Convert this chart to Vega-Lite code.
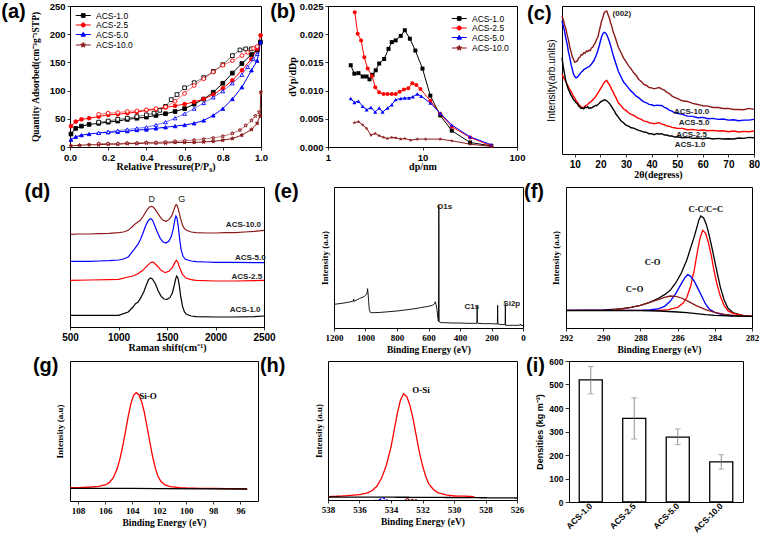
{
"$schema": "https://vega.github.io/schema/vega-lite/v6.json",
"padding": {"left": 0, "top": 0, "right": 0, "bottom": 0},
"background": "white",
"config": {
 "view": {"stroke": "black", "strokeWidth": 1},
 "axis": {"domain": false, "grid": false, "tickColor": "black", "tickSize": 3, "tickWidth": 0.8, "labelColor": "black", "titleColor": "black", "labelFont": "Liberation Sans", "labelFontWeight": "bold", "labelFontSize": 9.5, "titleFont": "Liberation Serif", "titleFontWeight": "bold", "titleFontSize": 10, "labelPadding": 2, "titlePadding": 0, "labelOverlap": false, "labelFlush": false},
 "title": {"font": "Liberation Sans", "fontSize": 20, "fontWeight": "bold", "color": "black", "orient": "left", "angle": 0, "anchor": "end", "frame": "group", "baseline": "top", "align": "right"},
 "text": {"font": "Liberation Serif", "fontWeight": "bold", "fontSize": 8.5, "color": "black"}
},
"spacing": 1,
"vconcat": [
{"spacing": 0, "hconcat": [
{
 "width": 191, "height": 141,
 "title": {"text": "(a)", "offset": -20, "dy": -4},
 "data": {"values": [
 {"s":"ACS-1.0","b":"ads","x":0.005,"y":23},{"s":"ACS-1.0","b":"ads","x":0.03,"y":33},{"s":"ACS-1.0","b":"ads","x":0.06,"y":37},{"s":"ACS-1.0","b":"ads","x":0.1,"y":40},{"s":"ACS-1.0","b":"ads","x":0.15,"y":42},{"s":"ACS-1.0","b":"ads","x":0.2,"y":44},{"s":"ACS-1.0","b":"ads","x":0.25,"y":46},{"s":"ACS-1.0","b":"ads","x":0.3,"y":49},{"s":"ACS-1.0","b":"ads","x":0.35,"y":51},{"s":"ACS-1.0","b":"ads","x":0.4,"y":53},{"s":"ACS-1.0","b":"ads","x":0.45,"y":56},{"s":"ACS-1.0","b":"ads","x":0.5,"y":59},{"s":"ACS-1.0","b":"ads","x":0.55,"y":63},{"s":"ACS-1.0","b":"ads","x":0.6,"y":68},{"s":"ACS-1.0","b":"ads","x":0.65,"y":76},{"s":"ACS-1.0","b":"ads","x":0.7,"y":85},{"s":"ACS-1.0","b":"ads","x":0.75,"y":97},{"s":"ACS-1.0","b":"ads","x":0.8,"y":113},{"s":"ACS-1.0","b":"ads","x":0.85,"y":131},{"s":"ACS-1.0","b":"ads","x":0.9,"y":148},{"s":"ACS-1.0","b":"ads","x":0.95,"y":164},{"s":"ACS-1.0","b":"ads","x":0.98,"y":172},{"s":"ACS-1.0","b":"ads","x":0.997,"y":186},
 {"s":"ACS-1.0","b":"des","x":0.98,"y":176},{"s":"ACS-1.0","b":"des","x":0.95,"y":174},{"s":"ACS-1.0","b":"des","x":0.92,"y":174},{"s":"ACS-1.0","b":"des","x":0.89,"y":172},{"s":"ACS-1.0","b":"des","x":0.85,"y":162},{"s":"ACS-1.0","b":"des","x":0.8,"y":146},{"s":"ACS-1.0","b":"des","x":0.75,"y":134},{"s":"ACS-1.0","b":"des","x":0.7,"y":123},{"s":"ACS-1.0","b":"des","x":0.65,"y":114},{"s":"ACS-1.0","b":"des","x":0.6,"y":105},{"s":"ACS-1.0","b":"des","x":0.56,"y":93},{"s":"ACS-1.0","b":"des","x":0.53,"y":84},{"s":"ACS-1.0","b":"des","x":0.5,"y":72},{"s":"ACS-1.0","b":"des","x":0.47,"y":65},{"s":"ACS-1.0","b":"des","x":0.44,"y":60},{"s":"ACS-1.0","b":"des","x":0.4,"y":57},{"s":"ACS-1.0","b":"des","x":0.35,"y":54},{"s":"ACS-1.0","b":"des","x":0.3,"y":51},{"s":"ACS-1.0","b":"des","x":0.25,"y":49},{"s":"ACS-1.0","b":"des","x":0.2,"y":46},{"s":"ACS-1.0","b":"des","x":0.15,"y":44},
 {"s":"ACS-2.5","b":"ads","x":0.005,"y":37},{"s":"ACS-2.5","b":"ads","x":0.03,"y":45},{"s":"ACS-2.5","b":"ads","x":0.06,"y":49},{"s":"ACS-2.5","b":"ads","x":0.1,"y":51},{"s":"ACS-2.5","b":"ads","x":0.15,"y":54},{"s":"ACS-2.5","b":"ads","x":0.2,"y":57},{"s":"ACS-2.5","b":"ads","x":0.25,"y":58},{"s":"ACS-2.5","b":"ads","x":0.3,"y":60},{"s":"ACS-2.5","b":"ads","x":0.35,"y":62},{"s":"ACS-2.5","b":"ads","x":0.4,"y":65},{"s":"ACS-2.5","b":"ads","x":0.45,"y":67},{"s":"ACS-2.5","b":"ads","x":0.5,"y":70},{"s":"ACS-2.5","b":"ads","x":0.55,"y":73},{"s":"ACS-2.5","b":"ads","x":0.6,"y":76},{"s":"ACS-2.5","b":"ads","x":0.65,"y":80},{"s":"ACS-2.5","b":"ads","x":0.7,"y":85},{"s":"ACS-2.5","b":"ads","x":0.75,"y":93},{"s":"ACS-2.5","b":"ads","x":0.8,"y":104},{"s":"ACS-2.5","b":"ads","x":0.85,"y":118},{"s":"ACS-2.5","b":"ads","x":0.9,"y":136},{"s":"ACS-2.5","b":"ads","x":0.95,"y":156},{"s":"ACS-2.5","b":"ads","x":0.98,"y":174},{"s":"ACS-2.5","b":"ads","x":0.998,"y":198},
 {"s":"ACS-2.5","b":"des","x":0.98,"y":178},{"s":"ACS-2.5","b":"des","x":0.96,"y":175},{"s":"ACS-2.5","b":"des","x":0.93,"y":168},{"s":"ACS-2.5","b":"des","x":0.9,"y":162},{"s":"ACS-2.5","b":"des","x":0.85,"y":153},{"s":"ACS-2.5","b":"des","x":0.8,"y":145},{"s":"ACS-2.5","b":"des","x":0.75,"y":133},{"s":"ACS-2.5","b":"des","x":0.7,"y":121},{"s":"ACS-2.5","b":"des","x":0.65,"y":109},{"s":"ACS-2.5","b":"des","x":0.6,"y":95},{"s":"ACS-2.5","b":"des","x":0.55,"y":81},{"s":"ACS-2.5","b":"des","x":0.5,"y":71},{"s":"ACS-2.5","b":"des","x":0.45,"y":68},{"s":"ACS-2.5","b":"des","x":0.4,"y":66},{"s":"ACS-2.5","b":"des","x":0.35,"y":64},{"s":"ACS-2.5","b":"des","x":0.3,"y":63},{"s":"ACS-2.5","b":"des","x":0.25,"y":61},{"s":"ACS-2.5","b":"des","x":0.2,"y":60},{"s":"ACS-2.5","b":"des","x":0.15,"y":58},
 {"s":"ACS-5.0","b":"ads","x":0.005,"y":13},{"s":"ACS-5.0","b":"ads","x":0.03,"y":18},{"s":"ACS-5.0","b":"ads","x":0.06,"y":21},{"s":"ACS-5.0","b":"ads","x":0.1,"y":23},{"s":"ACS-5.0","b":"ads","x":0.15,"y":25},{"s":"ACS-5.0","b":"ads","x":0.2,"y":26},{"s":"ACS-5.0","b":"ads","x":0.25,"y":27},{"s":"ACS-5.0","b":"ads","x":0.3,"y":28},{"s":"ACS-5.0","b":"ads","x":0.35,"y":30},{"s":"ACS-5.0","b":"ads","x":0.4,"y":31},{"s":"ACS-5.0","b":"ads","x":0.45,"y":33},{"s":"ACS-5.0","b":"ads","x":0.5,"y":35},{"s":"ACS-5.0","b":"ads","x":0.55,"y":37},{"s":"ACS-5.0","b":"ads","x":0.6,"y":39},{"s":"ACS-5.0","b":"ads","x":0.65,"y":42},{"s":"ACS-5.0","b":"ads","x":0.7,"y":47},{"s":"ACS-5.0","b":"ads","x":0.75,"y":56},{"s":"ACS-5.0","b":"ads","x":0.8,"y":68},{"s":"ACS-5.0","b":"ads","x":0.85,"y":85},{"s":"ACS-5.0","b":"ads","x":0.9,"y":106},{"s":"ACS-5.0","b":"ads","x":0.95,"y":136},{"s":"ACS-5.0","b":"ads","x":0.98,"y":153},{"s":"ACS-5.0","b":"ads","x":0.998,"y":186},
 {"s":"ACS-5.0","b":"des","x":0.98,"y":165},{"s":"ACS-5.0","b":"des","x":0.96,"y":156},{"s":"ACS-5.0","b":"des","x":0.93,"y":142},{"s":"ACS-5.0","b":"des","x":0.9,"y":128},{"s":"ACS-5.0","b":"des","x":0.85,"y":113},{"s":"ACS-5.0","b":"des","x":0.8,"y":99},{"s":"ACS-5.0","b":"des","x":0.75,"y":88},{"s":"ACS-5.0","b":"des","x":0.7,"y":78},{"s":"ACS-5.0","b":"des","x":0.65,"y":68},{"s":"ACS-5.0","b":"des","x":0.6,"y":59},{"s":"ACS-5.0","b":"des","x":0.55,"y":51},{"s":"ACS-5.0","b":"des","x":0.5,"y":44},{"s":"ACS-5.0","b":"des","x":0.45,"y":39},{"s":"ACS-5.0","b":"des","x":0.4,"y":35},{"s":"ACS-5.0","b":"des","x":0.35,"y":33},{"s":"ACS-5.0","b":"des","x":0.3,"y":31},{"s":"ACS-5.0","b":"des","x":0.25,"y":29},{"s":"ACS-5.0","b":"des","x":0.2,"y":27},{"s":"ACS-5.0","b":"des","x":0.15,"y":25},
 {"s":"ACS-10.0","b":"ads","x":0.005,"y":2},{"s":"ACS-10.0","b":"ads","x":0.05,"y":3},{"s":"ACS-10.0","b":"ads","x":0.1,"y":4},{"s":"ACS-10.0","b":"ads","x":0.15,"y":4},{"s":"ACS-10.0","b":"ads","x":0.2,"y":5},{"s":"ACS-10.0","b":"ads","x":0.25,"y":5},{"s":"ACS-10.0","b":"ads","x":0.3,"y":6},{"s":"ACS-10.0","b":"ads","x":0.35,"y":6},{"s":"ACS-10.0","b":"ads","x":0.4,"y":7},{"s":"ACS-10.0","b":"ads","x":0.45,"y":7},{"s":"ACS-10.0","b":"ads","x":0.5,"y":7},{"s":"ACS-10.0","b":"ads","x":0.55,"y":8},{"s":"ACS-10.0","b":"ads","x":0.6,"y":8},{"s":"ACS-10.0","b":"ads","x":0.65,"y":8},{"s":"ACS-10.0","b":"ads","x":0.7,"y":9},{"s":"ACS-10.0","b":"ads","x":0.75,"y":10},{"s":"ACS-10.0","b":"ads","x":0.8,"y":12},{"s":"ACS-10.0","b":"ads","x":0.85,"y":15},{"s":"ACS-10.0","b":"ads","x":0.9,"y":21},{"s":"ACS-10.0","b":"ads","x":0.95,"y":31},{"s":"ACS-10.0","b":"ads","x":0.98,"y":42},{"s":"ACS-10.0","b":"ads","x":0.995,"y":55},{"s":"ACS-10.0","b":"ads","x":0.999,"y":97},
 {"s":"ACS-10.0","b":"des","x":0.99,"y":62},{"s":"ACS-10.0","b":"des","x":0.97,"y":55},{"s":"ACS-10.0","b":"des","x":0.95,"y":47},{"s":"ACS-10.0","b":"des","x":0.92,"y":38},{"s":"ACS-10.0","b":"des","x":0.89,"y":30},{"s":"ACS-10.0","b":"des","x":0.85,"y":24},{"s":"ACS-10.0","b":"des","x":0.8,"y":19},{"s":"ACS-10.0","b":"des","x":0.75,"y":16},{"s":"ACS-10.0","b":"des","x":0.7,"y":14},{"s":"ACS-10.0","b":"des","x":0.65,"y":12},{"s":"ACS-10.0","b":"des","x":0.6,"y":11},{"s":"ACS-10.0","b":"des","x":0.55,"y":10},{"s":"ACS-10.0","b":"des","x":0.5,"y":9},{"s":"ACS-10.0","b":"des","x":0.45,"y":8},{"s":"ACS-10.0","b":"des","x":0.4,"y":8},{"s":"ACS-10.0","b":"des","x":0.35,"y":7},{"s":"ACS-10.0","b":"des","x":0.3,"y":7},{"s":"ACS-10.0","b":"des","x":0.25,"y":6},{"s":"ACS-10.0","b":"des","x":0.2,"y":6},{"s":"ACS-10.0","b":"des","x":0.15,"y":6}
 ]},
 "encoding": {
  "x": {"field": "x", "type": "quantitative", "scale": {"domain": [0, 1], "nice": false}, "axis": {"values": [0, 0.2, 0.4, 0.6, 0.8, 1], "format": ".1f", "title": "Relative Pressure(P/P₀)"}},
  "y": {"field": "y", "type": "quantitative", "scale": {"domain": [0, 250], "nice": false}, "axis": {"values": [0, 50, 100, 150, 200, 250], "title": "Quantity Adsorbed(cm⁻³g⁻¹STP)", "titlePadding": 9, "titleFontSize": 9.5}}
 },
 "resolve": {"scale": {"shape": "independent", "fill": "independent", "stroke": "independent"}},
 "layer": [
  {"mark": {"type": "line", "strokeWidth": 1},
   "encoding": {
    "detail": {"field": "b"},
    "color": {"field": "s", "type": "nominal", "scale": {"domain": ["ACS-1.0", "ACS-2.5", "ACS-5.0", "ACS-10.0"], "range": ["#000000", "#ff0000", "#0000ff", "#8b1a1a"]}, "legend": null},
    "strokeOpacity": {"condition": {"test": "datum.b == 'des'", "value": 0.55}, "value": 1}
   }},
  {"mark": {"type": "point", "size": 14, "strokeWidth": 0.9, "opacity": 1, "filled": true},
   "encoding": {
    "shape": {"field": "s", "type": "nominal", "scale": {"domain": ["ACS-1.0", "ACS-2.5", "ACS-5.0", "ACS-10.0"], "range": ["square", "circle", "triangle-up", "M0,-1L0.235,-0.324L0.951,-0.309L0.38,0.124L0.588,0.809L0,0.4L-0.588,0.809L-0.38,0.124L-0.951,-0.309L-0.235,-0.324Z"]}, "legend": null},
    "stroke": {"field": "s", "type": "nominal", "scale": {"domain": ["ACS-1.0", "ACS-2.5", "ACS-5.0", "ACS-10.0"], "range": ["#000000", "#ff0000", "#0000ff", "#8b1a1a"]}, "legend": null},
    "fill": {"field": "s", "type": "nominal", "scale": {"domain": ["ACS-1.0", "ACS-2.5", "ACS-5.0", "ACS-10.0"], "range": ["#000000", "#ff0000", "#0000ff", "#8b1a1a"]}, "legend": null, "condition": {"test": "datum.b == 'des'", "value": "white"}}
   }},
  {"transform": [{"filter": "false"}],
   "mark": {"type": "point", "filled": true, "opacity": 1, "strokeWidth": 1},
   "encoding": {
    "shape": {"field": "s", "type": "nominal", "scale": {"domain": ["ACS-1.0", "ACS-2.5", "ACS-5.0", "ACS-10.0"], "range": ["M-1,0H3M0.5,-0.5H1.5V0.5H0.5Z", "M-1,0H3M1.55,0A0.55,0.55,0,1,1,0.45,0A0.55,0.55,0,1,1,1.55,0Z", "M-1,0H3M1,-0.6L1.6,0.45H0.4Z", "M-1,0H3M1,-0.7L1.17,-0.23L1.68,-0.22L1.27,0.09L1.42,0.57L1,0.29L0.58,0.57L0.73,0.09L0.32,-0.22L0.83,-0.23Z"]},
     "legend": {"orient": "top-left", "offset": 5, "title": null, "padding": 0, "rowPadding": 0.5, "labelFont": "Liberation Sans", "labelFontSize": 8.5, "labelFontWeight": "normal", "labelColor": "black", "labelOffset": 12, "symbolSize": 56, "symbolStrokeWidth": 1}},
    "fill": {"field": "s", "type": "nominal", "scale": {"domain": ["ACS-1.0", "ACS-2.5", "ACS-5.0", "ACS-10.0"], "range": ["#000000", "#ff0000", "#0000ff", "#8b1a1a"]},
     "legend": {"orient": "top-left", "offset": 5, "title": null, "padding": 0, "rowPadding": 0.5, "labelFont": "Liberation Sans", "labelFontSize": 8.5, "labelFontWeight": "normal", "labelColor": "black", "labelOffset": 12, "symbolSize": 56, "symbolStrokeWidth": 1}},
    "stroke": {"field": "s", "type": "nominal", "scale": {"domain": ["ACS-1.0", "ACS-2.5", "ACS-5.0", "ACS-10.0"], "range": ["#000000", "#ff0000", "#0000ff", "#8b1a1a"]},
     "legend": {"orient": "top-left", "offset": 5, "title": null, "padding": 0, "rowPadding": 0.5, "labelFont": "Liberation Sans", "labelFontSize": 8.5, "labelFontWeight": "normal", "labelColor": "black", "labelOffset": 12, "symbolSize": 56, "symbolStrokeWidth": 1}}
   }}
 ]
},
{
 "width": 189, "height": 141,
 "title": {"text": "(b)", "offset": -34, "dy": -4},
 "data": {"values": [
 {"s":"ACS-1.0","x":1.74,"y":0.0145},{"s":"ACS-1.0","x":1.9,"y":0.013},{"s":"ACS-1.0","x":2.1,"y":0.0131},{"s":"ACS-1.0","x":2.33,"y":0.0125},{"s":"ACS-1.0","x":2.56,"y":0.0125},{"s":"ACS-1.0","x":2.75,"y":0.012},{"s":"ACS-1.0","x":2.96,"y":0.0128},{"s":"ACS-1.0","x":3.2,"y":0.0136},{"s":"ACS-1.0","x":3.48,"y":0.0148},{"s":"ACS-1.0","x":3.93,"y":0.0156},{"s":"ACS-1.0","x":4.37,"y":0.0174},{"s":"ACS-1.0","x":4.73,"y":0.0186},{"s":"ACS-1.0","x":5.2,"y":0.0189},{"s":"ACS-1.0","x":5.88,"y":0.0197},{"s":"ACS-1.0","x":6.5,"y":0.0207},{"s":"ACS-1.0","x":7.35,"y":0.0192},{"s":"ACS-1.0","x":8.4,"y":0.0171},{"s":"ACS-1.0","x":10,"y":0.0139},{"s":"ACS-1.0","x":12.1,"y":0.0091},{"s":"ACS-1.0","x":15.4,"y":0.0056},{"s":"ACS-1.0","x":20.4,"y":0.0029},{"s":"ACS-1.0","x":31.9,"y":0.0008},{"s":"ACS-1.0","x":53.5,"y":0.0002},
 {"s":"ACS-2.5","x":1.92,"y":0.0239},{"s":"ACS-2.5","x":2.06,"y":0.0201},{"s":"ACS-2.5","x":2.24,"y":0.0189},{"s":"ACS-2.5","x":2.42,"y":0.0159},{"s":"ACS-2.5","x":2.63,"y":0.0139},{"s":"ACS-2.5","x":2.92,"y":0.0126},{"s":"ACS-2.5","x":3.16,"y":0.0106},{"s":"ACS-2.5","x":3.48,"y":0.0097},{"s":"ACS-2.5","x":3.87,"y":0.0094},{"s":"ACS-2.5","x":4.26,"y":0.0094},{"s":"ACS-2.5","x":4.73,"y":0.0094},{"s":"ACS-2.5","x":5.2,"y":0.0094},{"s":"ACS-2.5","x":5.74,"y":0.0098},{"s":"ACS-2.5","x":6.36,"y":0.0102},{"s":"ACS-2.5","x":7.06,"y":0.0104},{"s":"ACS-2.5","x":7.8,"y":0.0113},{"s":"ACS-2.5","x":8.6,"y":0.011},{"s":"ACS-2.5","x":9.5,"y":0.0103},{"s":"ACS-2.5","x":12.1,"y":0.0082},{"s":"ACS-2.5","x":15.4,"y":0.0059},{"s":"ACS-2.5","x":20.4,"y":0.0036},{"s":"ACS-2.5","x":31.9,"y":0.0017},{"s":"ACS-2.5","x":53.5,"y":0.0002},
 {"s":"ACS-5.0","x":1.74,"y":0.0086},{"s":"ACS-5.0","x":1.9,"y":0.0079},{"s":"ACS-5.0","x":2.1,"y":0.0081},{"s":"ACS-5.0","x":2.33,"y":0.0072},{"s":"ACS-5.0","x":2.56,"y":0.0066},{"s":"ACS-5.0","x":2.85,"y":0.007},{"s":"ACS-5.0","x":3.16,"y":0.0062},{"s":"ACS-5.0","x":3.48,"y":0.0069},{"s":"ACS-5.0","x":3.78,"y":0.0062},{"s":"ACS-5.0","x":4.26,"y":0.0069},{"s":"ACS-5.0","x":4.73,"y":0.0075},{"s":"ACS-5.0","x":5.2,"y":0.0084},{"s":"ACS-5.0","x":5.88,"y":0.0086},{"s":"ACS-5.0","x":6.5,"y":0.0087},{"s":"ACS-5.0","x":7.2,"y":0.0087},{"s":"ACS-5.0","x":7.9,"y":0.0089},{"s":"ACS-5.0","x":8.8,"y":0.0094},{"s":"ACS-5.0","x":9.7,"y":0.009},{"s":"ACS-5.0","x":12.1,"y":0.0078},{"s":"ACS-5.0","x":15.4,"y":0.006},{"s":"ACS-5.0","x":20.4,"y":0.0039},{"s":"ACS-5.0","x":31.9,"y":0.0018},{"s":"ACS-5.0","x":53.5,"y":0.0004},
 {"s":"ACS-10.0","x":1.9,"y":0.0043},{"s":"ACS-10.0","x":2.1,"y":0.0045},{"s":"ACS-10.0","x":2.33,"y":0.0039},{"s":"ACS-10.0","x":2.56,"y":0.0033},{"s":"ACS-10.0","x":2.85,"y":0.0021},{"s":"ACS-10.0","x":3.16,"y":0.0024},{"s":"ACS-10.0","x":3.48,"y":0.002},{"s":"ACS-10.0","x":3.87,"y":0.0017},{"s":"ACS-10.0","x":4.26,"y":0.0015},{"s":"ACS-10.0","x":4.73,"y":0.0017},{"s":"ACS-10.0","x":5.2,"y":0.0016},{"s":"ACS-10.0","x":5.88,"y":0.0014},{"s":"ACS-10.0","x":6.5,"y":0.0015},{"s":"ACS-10.0","x":7.5,"y":0.0012},{"s":"ACS-10.0","x":8.8,"y":0.0014},{"s":"ACS-10.0","x":10.8,"y":0.0014},{"s":"ACS-10.0","x":15.4,"y":0.0014},{"s":"ACS-10.0","x":20.4,"y":0.0011},{"s":"ACS-10.0","x":31.9,"y":0.0005},{"s":"ACS-10.0","x":53.5,"y":0.0001}
 ]},
 "encoding": {
  "x": {"field": "x", "type": "quantitative", "scale": {"type": "log", "domain": [1, 100], "nice": false}, "axis": {"values": [1, 10, 100], "format": "d", "title": "dp/nm"}},
  "y": {"field": "y", "type": "quantitative", "scale": {"domain": [0, 0.025], "nice": false}, "axis": {"values": [0, 0.005, 0.01, 0.015, 0.02, 0.025], "format": ".3f", "title": "dVp/dDp", "titlePadding": 2}}
 },
 "resolve": {"scale": {"shape": "independent", "fill": "independent", "stroke": "independent"}},
 "layer": [
  {"mark": {"type": "line", "strokeWidth": 1},
   "encoding": {"color": {"field": "s", "type": "nominal", "scale": {"domain": ["ACS-1.0", "ACS-2.5", "ACS-5.0", "ACS-10.0"], "range": ["#000000", "#ff0000", "#0000ff", "#8b1a1a"]}, "legend": null}}},
  {"mark": {"type": "point", "size": 16, "opacity": 1, "filled": true},
   "encoding": {
    "shape": {"field": "s", "type": "nominal", "scale": {"domain": ["ACS-1.0", "ACS-2.5", "ACS-5.0", "ACS-10.0"], "range": ["square", "circle", "triangle-up", "M0,-1L0.235,-0.324L0.951,-0.309L0.38,0.124L0.588,0.809L0,0.4L-0.588,0.809L-0.38,0.124L-0.951,-0.309L-0.235,-0.324Z"]}, "legend": null},
    "color": {"field": "s", "type": "nominal", "scale": {"domain": ["ACS-1.0", "ACS-2.5", "ACS-5.0", "ACS-10.0"], "range": ["#000000", "#ff0000", "#0000ff", "#8b1a1a"]}, "legend": null}
   }},
  {"transform": [{"filter": "false"}],
   "mark": {"type": "point", "filled": true, "opacity": 1, "strokeWidth": 1},
   "encoding": {
    "shape": {"field": "s", "type": "nominal", "scale": {"domain": ["ACS-1.0", "ACS-2.5", "ACS-5.0", "ACS-10.0"], "range": ["M-1,0H3M0.5,-0.5H1.5V0.5H0.5Z", "M-1,0H3M1.55,0A0.55,0.55,0,1,1,0.45,0A0.55,0.55,0,1,1,1.55,0Z", "M-1,0H3M1,-0.6L1.6,0.45H0.4Z", "M-1,0H3M1,-0.7L1.17,-0.23L1.68,-0.22L1.27,0.09L1.42,0.57L1,0.29L0.58,0.57L0.73,0.09L0.32,-0.22L0.83,-0.23Z"]},
     "legend": {"orient": "top-right", "offset": 8, "title": null, "padding": 0, "rowPadding": 0.5, "labelFont": "Liberation Sans", "labelFontSize": 8.5, "labelFontWeight": "normal", "labelColor": "black", "labelOffset": 12, "symbolSize": 56, "symbolStrokeWidth": 1}},
    "fill": {"field": "s", "type": "nominal", "scale": {"domain": ["ACS-1.0", "ACS-2.5", "ACS-5.0", "ACS-10.0"], "range": ["#000000", "#ff0000", "#0000ff", "#8b1a1a"]},
     "legend": {"orient": "top-right", "offset": 8, "title": null, "padding": 0, "rowPadding": 0.5, "labelFont": "Liberation Sans", "labelFontSize": 8.5, "labelFontWeight": "normal", "labelColor": "black", "labelOffset": 12, "symbolSize": 56, "symbolStrokeWidth": 1}},
    "stroke": {"field": "s", "type": "nominal", "scale": {"domain": ["ACS-1.0", "ACS-2.5", "ACS-5.0", "ACS-10.0"], "range": ["#000000", "#ff0000", "#0000ff", "#8b1a1a"]},
     "legend": {"orient": "top-right", "offset": 8, "title": null, "padding": 0, "rowPadding": 0.5, "labelFont": "Liberation Sans", "labelFontSize": 8.5, "labelFontWeight": "normal", "labelColor": "black", "labelOffset": 12, "symbolSize": 56, "symbolStrokeWidth": 1}}
   }}
 ]
},
{
 "width": 192, "height": 148,
 "title": {"text": "(c)", "offset": -30, "dy": -2},
 "data": {"values": [
 {"s":"ACS-10.0","x":5,"y":415},{"s":"ACS-10.0","x":5.5,"y":404},{"s":"ACS-10.0","x":6,"y":388},{"s":"ACS-10.0","x":6.5,"y":377},{"s":"ACS-10.0","x":7,"y":358},{"s":"ACS-10.0","x":7.5,"y":344},{"s":"ACS-10.0","x":8,"y":323},{"s":"ACS-10.0","x":8.5,"y":309},{"s":"ACS-10.0","x":9,"y":293},{"s":"ACS-10.0","x":9.5,"y":285},{"s":"ACS-10.0","x":10,"y":276},{"s":"ACS-10.0","x":10.5,"y":278},{"s":"ACS-10.0","x":11,"y":280},{"s":"ACS-10.0","x":11.5,"y":289},{"s":"ACS-10.0","x":12,"y":291},{"s":"ACS-10.0","x":12.5,"y":299},{"s":"ACS-10.0","x":13,"y":298},{"s":"ACS-10.0","x":13.5,"y":305},{"s":"ACS-10.0","x":14,"y":303},{"s":"ACS-10.0","x":14.5,"y":310},{"s":"ACS-10.0","x":15,"y":308},{"s":"ACS-10.0","x":15.5,"y":312},{"s":"ACS-10.0","x":16,"y":311},{"s":"ACS-10.0","x":16.5,"y":319},{"s":"ACS-10.0","x":17,"y":321},{"s":"ACS-10.0","x":17.5,"y":329},{"s":"ACS-10.0","x":18,"y":334},{"s":"ACS-10.0","x":18.5,"y":345},{"s":"ACS-10.0","x":19,"y":351},{"s":"ACS-10.0","x":19.5,"y":368},{"s":"ACS-10.0","x":20,"y":384},{"s":"ACS-10.0","x":20.5,"y":401},{"s":"ACS-10.0","x":21,"y":411},{"s":"ACS-10.0","x":21.5,"y":425},{"s":"ACS-10.0","x":22,"y":429},{"s":"ACS-10.0","x":22.5,"y":430},{"s":"ACS-10.0","x":23,"y":419},{"s":"ACS-10.0","x":23.5,"y":409},{"s":"ACS-10.0","x":24,"y":394},{"s":"ACS-10.0","x":24.5,"y":383},{"s":"ACS-10.0","x":25,"y":367},{"s":"ACS-10.0","x":25.5,"y":357},{"s":"ACS-10.0","x":26,"y":346},{"s":"ACS-10.0","x":27,"y":321},{"s":"ACS-10.0","x":28,"y":306},{"s":"ACS-10.0","x":29,"y":289},{"s":"ACS-10.0","x":30,"y":278},{"s":"ACS-10.0","x":31,"y":265},{"s":"ACS-10.0","x":32,"y":256},{"s":"ACS-10.0","x":33,"y":244},{"s":"ACS-10.0","x":34,"y":236},{"s":"ACS-10.0","x":35,"y":224},{"s":"ACS-10.0","x":36,"y":218},{"s":"ACS-10.0","x":37,"y":209},{"s":"ACS-10.0","x":38,"y":206},{"s":"ACS-10.0","x":39,"y":200},{"s":"ACS-10.0","x":40,"y":199},{"s":"ACS-10.0","x":41,"y":196},{"s":"ACS-10.0","x":42,"y":198},{"s":"ACS-10.0","x":43,"y":200},{"s":"ACS-10.0","x":44,"y":195},{"s":"ACS-10.0","x":45,"y":192},{"s":"ACS-10.0","x":46,"y":185},{"s":"ACS-10.0","x":47,"y":181},{"s":"ACS-10.0","x":48,"y":174},{"s":"ACS-10.0","x":49,"y":170},{"s":"ACS-10.0","x":50,"y":167},{"s":"ACS-10.0","x":52,"y":160},{"s":"ACS-10.0","x":54,"y":158},{"s":"ACS-10.0","x":56,"y":152},{"s":"ACS-10.0","x":58,"y":149},{"s":"ACS-10.0","x":60,"y":145},{"s":"ACS-10.0","x":62,"y":144},{"s":"ACS-10.0","x":64,"y":140},{"s":"ACS-10.0","x":66,"y":140},{"s":"ACS-10.0","x":68,"y":137},{"s":"ACS-10.0","x":70,"y":137},{"s":"ACS-10.0","x":72,"y":134},{"s":"ACS-10.0","x":74,"y":134},{"s":"ACS-10.0","x":76,"y":133},{"s":"ACS-10.0","x":78,"y":137},{"s":"ACS-10.0","x":80,"y":134},
 {"s":"ACS-5.0","x":5,"y":400},{"s":"ACS-5.0","x":5.5,"y":385},{"s":"ACS-5.0","x":6,"y":369},{"s":"ACS-5.0","x":6.5,"y":348},{"s":"ACS-5.0","x":7,"y":331},{"s":"ACS-5.0","x":7.5,"y":308},{"s":"ACS-5.0","x":8,"y":291},{"s":"ACS-5.0","x":8.5,"y":270},{"s":"ACS-5.0","x":9,"y":256},{"s":"ACS-5.0","x":9.5,"y":240},{"s":"ACS-5.0","x":10,"y":233},{"s":"ACS-5.0","x":10.5,"y":229},{"s":"ACS-5.0","x":11,"y":231},{"s":"ACS-5.0","x":11.5,"y":236},{"s":"ACS-5.0","x":12,"y":241},{"s":"ACS-5.0","x":12.5,"y":246},{"s":"ACS-5.0","x":13,"y":249},{"s":"ACS-5.0","x":13.5,"y":254},{"s":"ACS-5.0","x":14,"y":256},{"s":"ACS-5.0","x":14.5,"y":258},{"s":"ACS-5.0","x":15,"y":261},{"s":"ACS-5.0","x":15.5,"y":262},{"s":"ACS-5.0","x":16,"y":266},{"s":"ACS-5.0","x":16.5,"y":270},{"s":"ACS-5.0","x":17,"y":276},{"s":"ACS-5.0","x":17.5,"y":281},{"s":"ACS-5.0","x":18,"y":290},{"s":"ACS-5.0","x":18.5,"y":299},{"s":"ACS-5.0","x":19,"y":311},{"s":"ACS-5.0","x":19.5,"y":324},{"s":"ACS-5.0","x":20,"y":339},{"s":"ACS-5.0","x":20.5,"y":353},{"s":"ACS-5.0","x":21,"y":362},{"s":"ACS-5.0","x":21.5,"y":366},{"s":"ACS-5.0","x":22,"y":364},{"s":"ACS-5.0","x":22.5,"y":358},{"s":"ACS-5.0","x":23,"y":349},{"s":"ACS-5.0","x":23.5,"y":338},{"s":"ACS-5.0","x":24,"y":326},{"s":"ACS-5.0","x":24.5,"y":311},{"s":"ACS-5.0","x":25,"y":297},{"s":"ACS-5.0","x":25.5,"y":285},{"s":"ACS-5.0","x":26,"y":273},{"s":"ACS-5.0","x":27,"y":249},{"s":"ACS-5.0","x":28,"y":233},{"s":"ACS-5.0","x":29,"y":217},{"s":"ACS-5.0","x":30,"y":208},{"s":"ACS-5.0","x":31,"y":198},{"s":"ACS-5.0","x":32,"y":189},{"s":"ACS-5.0","x":33,"y":182},{"s":"ACS-5.0","x":34,"y":174},{"s":"ACS-5.0","x":35,"y":169},{"s":"ACS-5.0","x":36,"y":162},{"s":"ACS-5.0","x":37,"y":157},{"s":"ACS-5.0","x":38,"y":154},{"s":"ACS-5.0","x":39,"y":149},{"s":"ACS-5.0","x":40,"y":148},{"s":"ACS-5.0","x":41,"y":145},{"s":"ACS-5.0","x":42,"y":147},{"s":"ACS-5.0","x":43,"y":146},{"s":"ACS-5.0","x":44,"y":146},{"s":"ACS-5.0","x":45,"y":140},{"s":"ACS-5.0","x":46,"y":137},{"s":"ACS-5.0","x":47,"y":131},{"s":"ACS-5.0","x":48,"y":129},{"s":"ACS-5.0","x":49,"y":124},{"s":"ACS-5.0","x":50,"y":122},{"s":"ACS-5.0","x":52,"y":119},{"s":"ACS-5.0","x":54,"y":114},{"s":"ACS-5.0","x":56,"y":113},{"s":"ACS-5.0","x":58,"y":109},{"s":"ACS-5.0","x":60,"y":110},{"s":"ACS-5.0","x":62,"y":106},{"s":"ACS-5.0","x":64,"y":107},{"s":"ACS-5.0","x":66,"y":104},{"s":"ACS-5.0","x":68,"y":105},{"s":"ACS-5.0","x":70,"y":102},{"s":"ACS-5.0","x":72,"y":103},{"s":"ACS-5.0","x":74,"y":100},{"s":"ACS-5.0","x":76,"y":102},{"s":"ACS-5.0","x":78,"y":102},{"s":"ACS-5.0","x":80,"y":104},
 {"s":"ACS-2.5","x":5,"y":240},{"s":"ACS-2.5","x":5.5,"y":232},{"s":"ACS-2.5","x":6,"y":224},{"s":"ACS-2.5","x":6.5,"y":218},{"s":"ACS-2.5","x":7,"y":209},{"s":"ACS-2.5","x":7.5,"y":203},{"s":"ACS-2.5","x":8,"y":194},{"s":"ACS-2.5","x":8.5,"y":188},{"s":"ACS-2.5","x":9,"y":181},{"s":"ACS-2.5","x":9.5,"y":173},{"s":"ACS-2.5","x":10,"y":168},{"s":"ACS-2.5","x":10.5,"y":160},{"s":"ACS-2.5","x":11,"y":156},{"s":"ACS-2.5","x":11.5,"y":149},{"s":"ACS-2.5","x":12,"y":146},{"s":"ACS-2.5","x":12.5,"y":141},{"s":"ACS-2.5","x":13,"y":141},{"s":"ACS-2.5","x":13.5,"y":139},{"s":"ACS-2.5","x":14,"y":144},{"s":"ACS-2.5","x":14.5,"y":146},{"s":"ACS-2.5","x":15,"y":149},{"s":"ACS-2.5","x":15.5,"y":153},{"s":"ACS-2.5","x":16,"y":156},{"s":"ACS-2.5","x":16.5,"y":158},{"s":"ACS-2.5","x":17,"y":163},{"s":"ACS-2.5","x":17.5,"y":167},{"s":"ACS-2.5","x":18,"y":171},{"s":"ACS-2.5","x":18.5,"y":177},{"s":"ACS-2.5","x":19,"y":183},{"s":"ACS-2.5","x":19.5,"y":189},{"s":"ACS-2.5","x":20,"y":196},{"s":"ACS-2.5","x":20.5,"y":202},{"s":"ACS-2.5","x":21,"y":209},{"s":"ACS-2.5","x":21.5,"y":215},{"s":"ACS-2.5","x":22,"y":219},{"s":"ACS-2.5","x":22.5,"y":221},{"s":"ACS-2.5","x":23,"y":214},{"s":"ACS-2.5","x":23.5,"y":209},{"s":"ACS-2.5","x":24,"y":201},{"s":"ACS-2.5","x":24.5,"y":193},{"s":"ACS-2.5","x":25,"y":186},{"s":"ACS-2.5","x":25.5,"y":177},{"s":"ACS-2.5","x":26,"y":171},{"s":"ACS-2.5","x":27,"y":154},{"s":"ACS-2.5","x":28,"y":146},{"s":"ACS-2.5","x":29,"y":136},{"s":"ACS-2.5","x":30,"y":131},{"s":"ACS-2.5","x":31,"y":124},{"s":"ACS-2.5","x":32,"y":119},{"s":"ACS-2.5","x":33,"y":116},{"s":"ACS-2.5","x":34,"y":111},{"s":"ACS-2.5","x":35,"y":107},{"s":"ACS-2.5","x":36,"y":104},{"s":"ACS-2.5","x":37,"y":99},{"s":"ACS-2.5","x":38,"y":98},{"s":"ACS-2.5","x":39,"y":94},{"s":"ACS-2.5","x":40,"y":93},{"s":"ACS-2.5","x":41,"y":91},{"s":"ACS-2.5","x":42,"y":93},{"s":"ACS-2.5","x":43,"y":94},{"s":"ACS-2.5","x":44,"y":90},{"s":"ACS-2.5","x":45,"y":88},{"s":"ACS-2.5","x":46,"y":84},{"s":"ACS-2.5","x":47,"y":83},{"s":"ACS-2.5","x":48,"y":80},{"s":"ACS-2.5","x":49,"y":79},{"s":"ACS-2.5","x":50,"y":77},{"s":"ACS-2.5","x":52,"y":77},{"s":"ACS-2.5","x":54,"y":73},{"s":"ACS-2.5","x":56,"y":74},{"s":"ACS-2.5","x":58,"y":71},{"s":"ACS-2.5","x":60,"y":72},{"s":"ACS-2.5","x":62,"y":70},{"s":"ACS-2.5","x":64,"y":71},{"s":"ACS-2.5","x":66,"y":69},{"s":"ACS-2.5","x":68,"y":70},{"s":"ACS-2.5","x":70,"y":67},{"s":"ACS-2.5","x":72,"y":69},{"s":"ACS-2.5","x":74,"y":66},{"s":"ACS-2.5","x":76,"y":68},{"s":"ACS-2.5","x":78,"y":67},{"s":"ACS-2.5","x":80,"y":69},
 {"s":"ACS-1.0","x":5,"y":290},{"s":"ACS-1.0","x":5.5,"y":262},{"s":"ACS-1.0","x":6,"y":240},{"s":"ACS-1.0","x":6.5,"y":219},{"s":"ACS-1.0","x":7,"y":206},{"s":"ACS-1.0","x":7.5,"y":194},{"s":"ACS-1.0","x":8,"y":186},{"s":"ACS-1.0","x":8.5,"y":176},{"s":"ACS-1.0","x":9,"y":171},{"s":"ACS-1.0","x":9.5,"y":163},{"s":"ACS-1.0","x":10,"y":160},{"s":"ACS-1.0","x":10.5,"y":154},{"s":"ACS-1.0","x":11,"y":151},{"s":"ACS-1.0","x":11.5,"y":144},{"s":"ACS-1.0","x":12,"y":141},{"s":"ACS-1.0","x":12.5,"y":137},{"s":"ACS-1.0","x":13,"y":138},{"s":"ACS-1.0","x":13.5,"y":136},{"s":"ACS-1.0","x":14,"y":141},{"s":"ACS-1.0","x":14.5,"y":139},{"s":"ACS-1.0","x":15,"y":142},{"s":"ACS-1.0","x":15.5,"y":137},{"s":"ACS-1.0","x":16,"y":139},{"s":"ACS-1.0","x":16.5,"y":138},{"s":"ACS-1.0","x":17,"y":141},{"s":"ACS-1.0","x":17.5,"y":143},{"s":"ACS-1.0","x":18,"y":146},{"s":"ACS-1.0","x":18.5,"y":145},{"s":"ACS-1.0","x":19,"y":149},{"s":"ACS-1.0","x":19.5,"y":152},{"s":"ACS-1.0","x":20,"y":156},{"s":"ACS-1.0","x":20.5,"y":159},{"s":"ACS-1.0","x":21,"y":160},{"s":"ACS-1.0","x":21.5,"y":163},{"s":"ACS-1.0","x":22,"y":162},{"s":"ACS-1.0","x":22.5,"y":160},{"s":"ACS-1.0","x":23,"y":156},{"s":"ACS-1.0","x":23.5,"y":152},{"s":"ACS-1.0","x":24,"y":147},{"s":"ACS-1.0","x":24.5,"y":141},{"s":"ACS-1.0","x":25,"y":134},{"s":"ACS-1.0","x":25.5,"y":129},{"s":"ACS-1.0","x":26,"y":121},{"s":"ACS-1.0","x":27,"y":111},{"s":"ACS-1.0","x":28,"y":100},{"s":"ACS-1.0","x":29,"y":94},{"s":"ACS-1.0","x":30,"y":87},{"s":"ACS-1.0","x":31,"y":84},{"s":"ACS-1.0","x":32,"y":79},{"s":"ACS-1.0","x":33,"y":78},{"s":"ACS-1.0","x":34,"y":74},{"s":"ACS-1.0","x":35,"y":71},{"s":"ACS-1.0","x":36,"y":69},{"s":"ACS-1.0","x":37,"y":66},{"s":"ACS-1.0","x":38,"y":65},{"s":"ACS-1.0","x":39,"y":61},{"s":"ACS-1.0","x":40,"y":61},{"s":"ACS-1.0","x":41,"y":58},{"s":"ACS-1.0","x":42,"y":61},{"s":"ACS-1.0","x":43,"y":60},{"s":"ACS-1.0","x":44,"y":61},{"s":"ACS-1.0","x":45,"y":57},{"s":"ACS-1.0","x":46,"y":57},{"s":"ACS-1.0","x":47,"y":54},{"s":"ACS-1.0","x":48,"y":54},{"s":"ACS-1.0","x":49,"y":51},{"s":"ACS-1.0","x":50,"y":52},{"s":"ACS-1.0","x":52,"y":49},{"s":"ACS-1.0","x":54,"y":50},{"s":"ACS-1.0","x":56,"y":47},{"s":"ACS-1.0","x":58,"y":48},{"s":"ACS-1.0","x":60,"y":46},{"s":"ACS-1.0","x":62,"y":48},{"s":"ACS-1.0","x":64,"y":45},{"s":"ACS-1.0","x":66,"y":47},{"s":"ACS-1.0","x":68,"y":45},{"s":"ACS-1.0","x":70,"y":46},{"s":"ACS-1.0","x":72,"y":45},{"s":"ACS-1.0","x":74,"y":48},{"s":"ACS-1.0","x":76,"y":47},{"s":"ACS-1.0","x":78,"y":50},{"s":"ACS-1.0","x":80,"y":49}
 ]},
 "encoding": {
  "x": {"field": "x", "type": "quantitative", "scale": {"domain": [5, 80], "nice": false}, "axis": {"values": [10, 20, 30, 40, 50, 60, 70, 80], "title": "2θ(degress)", "labelFontSize": 10}},
  "y": {"field": "y", "type": "quantitative", "scale": {"domain": [0, 445], "nice": false}, "axis": {"labels": false, "ticks": false, "title": "Intensity(arb.units)", "titleFont": "Liberation Sans", "titleFontWeight": "normal", "titleFontSize": 10, "titlePadding": 6}}
 },
 "layer": [
  {"mark": {"type": "line", "strokeWidth": 1.4},
   "encoding": {"color": {"field": "s", "type": "nominal", "scale": {"domain": ["ACS-1.0", "ACS-2.5", "ACS-5.0", "ACS-10.0"], "range": ["#000000", "#ff0000", "#0000ff", "#8b1a1a"]}, "legend": null}}},
  {"data": {"values": [{"x":28.4,"y":420,"t":"(002)"},{"x":55.6,"y":127,"t":"ACS-10.0"},{"x":56.6,"y":92,"t":"ACS-5.0"},{"x":55.6,"y":58,"t":"ACS-2.5"},{"x":55,"y":27,"t":"ACS-1.0"}]},
   "mark": {"type": "text", "font": "Liberation Sans", "fontWeight": "bold", "fontSize": 8, "color": "#222222"},
   "encoding": {"text": {"field": "t"}}}
 ]
}
]},
{"spacing": -3, "hconcat": [
{
 "width": 194, "height": 140,
 "title": {"text": "\u00a0\u00a0\u00a0\u00a0\u00a0\u00a0\u00a0\u00a0(d)", "offset": -14, "dy": -5},
 "data": {"values": [
 {"s":"ACS-10.0","x":500,"y":278},{"s":"ACS-10.0","x":600,"y":279},{"s":"ACS-10.0","x":700,"y":279},{"s":"ACS-10.0","x":800,"y":280},{"s":"ACS-10.0","x":900,"y":281},{"s":"ACS-10.0","x":1000,"y":283},{"s":"ACS-10.0","x":1050,"y":285},{"s":"ACS-10.0","x":1100,"y":290},{"s":"ACS-10.0","x":1150,"y":303},{"s":"ACS-10.0","x":1175,"y":310},{"s":"ACS-10.0","x":1200,"y":315},{"s":"ACS-10.0","x":1225,"y":320},{"s":"ACS-10.0","x":1250,"y":330},{"s":"ACS-10.0","x":1275,"y":342},{"s":"ACS-10.0","x":1300,"y":354},{"s":"ACS-10.0","x":1320,"y":360},{"s":"ACS-10.0","x":1340,"y":362},{"s":"ACS-10.0","x":1360,"y":359},{"s":"ACS-10.0","x":1380,"y":352},{"s":"ACS-10.0","x":1400,"y":343},{"s":"ACS-10.0","x":1430,"y":330},{"s":"ACS-10.0","x":1460,"y":320},{"s":"ACS-10.0","x":1490,"y":317},{"s":"ACS-10.0","x":1520,"y":322},{"s":"ACS-10.0","x":1550,"y":334},{"s":"ACS-10.0","x":1570,"y":350},{"s":"ACS-10.0","x":1585,"y":363},{"s":"ACS-10.0","x":1595,"y":367},{"s":"ACS-10.0","x":1605,"y":364},{"s":"ACS-10.0","x":1620,"y":350},{"s":"ACS-10.0","x":1640,"y":325},{"s":"ACS-10.0","x":1660,"y":305},{"s":"ACS-10.0","x":1680,"y":295},{"s":"ACS-10.0","x":1700,"y":290},{"s":"ACS-10.0","x":1750,"y":285},{"s":"ACS-10.0","x":1800,"y":283},{"s":"ACS-10.0","x":1900,"y":282},{"s":"ACS-10.0","x":2000,"y":282},{"s":"ACS-10.0","x":2100,"y":283},{"s":"ACS-10.0","x":2200,"y":283},{"s":"ACS-10.0","x":2300,"y":285},{"s":"ACS-10.0","x":2400,"y":287},{"s":"ACS-10.0","x":2500,"y":290},
 {"s":"ACS-5.0","x":500,"y":197},{"s":"ACS-5.0","x":600,"y":197},{"s":"ACS-5.0","x":700,"y":197},{"s":"ACS-5.0","x":800,"y":198},{"s":"ACS-5.0","x":900,"y":199},{"s":"ACS-5.0","x":1000,"y":201},{"s":"ACS-5.0","x":1050,"y":204},{"s":"ACS-5.0","x":1100,"y":210},{"s":"ACS-5.0","x":1150,"y":228},{"s":"ACS-5.0","x":1175,"y":238},{"s":"ACS-5.0","x":1200,"y":248},{"s":"ACS-5.0","x":1225,"y":262},{"s":"ACS-5.0","x":1250,"y":280},{"s":"ACS-5.0","x":1275,"y":300},{"s":"ACS-5.0","x":1300,"y":316},{"s":"ACS-5.0","x":1320,"y":323},{"s":"ACS-5.0","x":1335,"y":325},{"s":"ACS-5.0","x":1350,"y":321},{"s":"ACS-5.0","x":1370,"y":307},{"s":"ACS-5.0","x":1400,"y":285},{"s":"ACS-5.0","x":1430,"y":266},{"s":"ACS-5.0","x":1460,"y":255},{"s":"ACS-5.0","x":1490,"y":252},{"s":"ACS-5.0","x":1520,"y":258},{"s":"ACS-5.0","x":1545,"y":272},{"s":"ACS-5.0","x":1565,"y":295},{"s":"ACS-5.0","x":1580,"y":320},{"s":"ACS-5.0","x":1592,"y":333},{"s":"ACS-5.0","x":1602,"y":328},{"s":"ACS-5.0","x":1615,"y":305},{"s":"ACS-5.0","x":1630,"y":265},{"s":"ACS-5.0","x":1645,"y":233},{"s":"ACS-5.0","x":1665,"y":212},{"s":"ACS-5.0","x":1690,"y":203},{"s":"ACS-5.0","x":1750,"y":198},{"s":"ACS-5.0","x":1800,"y":196},{"s":"ACS-5.0","x":1900,"y":195},{"s":"ACS-5.0","x":2000,"y":194},{"s":"ACS-5.0","x":2200,"y":194},{"s":"ACS-5.0","x":2400,"y":193},{"s":"ACS-5.0","x":2500,"y":193},
 {"s":"ACS-2.5","x":500,"y":140},{"s":"ACS-2.5","x":700,"y":141},{"s":"ACS-2.5","x":900,"y":142},{"s":"ACS-2.5","x":1000,"y":143},{"s":"ACS-2.5","x":1100,"y":150},{"s":"ACS-2.5","x":1150,"y":153},{"s":"ACS-2.5","x":1200,"y":160},{"s":"ACS-2.5","x":1250,"y":170},{"s":"ACS-2.5","x":1300,"y":185},{"s":"ACS-2.5","x":1330,"y":193},{"s":"ACS-2.5","x":1350,"y":195},{"s":"ACS-2.5","x":1370,"y":192},{"s":"ACS-2.5","x":1400,"y":183},{"s":"ACS-2.5","x":1440,"y":170},{"s":"ACS-2.5","x":1480,"y":163},{"s":"ACS-2.5","x":1520,"y":167},{"s":"ACS-2.5","x":1555,"y":178},{"s":"ACS-2.5","x":1580,"y":193},{"s":"ACS-2.5","x":1597,"y":200},{"s":"ACS-2.5","x":1612,"y":194},{"s":"ACS-2.5","x":1630,"y":178},{"s":"ACS-2.5","x":1660,"y":158},{"s":"ACS-2.5","x":1700,"y":146},{"s":"ACS-2.5","x":1750,"y":142},{"s":"ACS-2.5","x":1800,"y":140},{"s":"ACS-2.5","x":2000,"y":138},{"s":"ACS-2.5","x":2200,"y":138},{"s":"ACS-2.5","x":2400,"y":139},{"s":"ACS-2.5","x":2500,"y":140},
 {"s":"ACS-1.0","x":500,"y":35},{"s":"ACS-1.0","x":700,"y":35},{"s":"ACS-1.0","x":900,"y":35},{"s":"ACS-1.0","x":1000,"y":35},{"s":"ACS-1.0","x":1100,"y":45},{"s":"ACS-1.0","x":1150,"y":60},{"s":"ACS-1.0","x":1175,"y":70},{"s":"ACS-1.0","x":1200,"y":74},{"s":"ACS-1.0","x":1230,"y":88},{"s":"ACS-1.0","x":1260,"y":105},{"s":"ACS-1.0","x":1290,"y":128},{"s":"ACS-1.0","x":1310,"y":142},{"s":"ACS-1.0","x":1330,"y":147},{"s":"ACS-1.0","x":1350,"y":144},{"s":"ACS-1.0","x":1380,"y":130},{"s":"ACS-1.0","x":1410,"y":108},{"s":"ACS-1.0","x":1440,"y":92},{"s":"ACS-1.0","x":1470,"y":84},{"s":"ACS-1.0","x":1500,"y":83},{"s":"ACS-1.0","x":1530,"y":88},{"s":"ACS-1.0","x":1555,"y":102},{"s":"ACS-1.0","x":1575,"y":125},{"s":"ACS-1.0","x":1590,"y":145},{"s":"ACS-1.0","x":1600,"y":153},{"s":"ACS-1.0","x":1612,"y":148},{"s":"ACS-1.0","x":1625,"y":128},{"s":"ACS-1.0","x":1640,"y":95},{"s":"ACS-1.0","x":1660,"y":62},{"s":"ACS-1.0","x":1680,"y":45},{"s":"ACS-1.0","x":1700,"y":38},{"s":"ACS-1.0","x":1750,"y":33},{"s":"ACS-1.0","x":1800,"y":31},{"s":"ACS-1.0","x":2000,"y":30},{"s":"ACS-1.0","x":2200,"y":30},{"s":"ACS-1.0","x":2400,"y":31},{"s":"ACS-1.0","x":2500,"y":33}
 ]},
 "encoding": {
  "x": {"field": "x", "type": "quantitative", "scale": {"domain": [500, 2500], "nice": false}, "axis": {"values": [500, 1000, 1500, 2000, 2500], "format": "d", "title": "Raman shift(cm⁻¹)", "labelFontSize": 10}},
  "y": {"field": "y", "type": "quantitative", "scale": {"domain": [0, 420], "nice": false}, "axis": null}
 },
 "layer": [
  {"mark": {"type": "line", "strokeWidth": 1.2},
   "encoding": {"color": {"field": "s", "type": "nominal", "scale": {"domain": ["ACS-1.0", "ACS-2.5", "ACS-5.0", "ACS-10.0"], "range": ["#000000", "#ff0000", "#0000ff", "#8b1a1a"]}, "legend": null}}},
  {"data": {"values": [{"x":2288,"y":305,"t":"ACS-10.0"},{"x":2359,"y":207,"t":"ACS-5.0"},{"x":2323,"y":150,"t":"ACS-2.5"},{"x":2306,"y":50,"t":"ACS-1.0"}]},
   "mark": {"type": "text", "font": "Liberation Sans", "fontWeight": "bold", "fontSize": 8, "color": "#222222"},
   "encoding": {"text": {"field": "t"}}},
  {"data": {"values": [{"x":1343,"y":383,"t":"D"},{"x":1653,"y":383,"t":"G"}]},
   "mark": {"type": "text", "font": "Liberation Sans", "fontWeight": "normal", "fontSize": 9, "color": "#222222"},
   "encoding": {"text": {"field": "t"}}}
 ]
},
{
 "width": 189, "height": 141,
 "title": {"text": "(e)", "offset": -3, "dy": -5},
 "data": {"values": [
 {"x":1200,"y":71},{"x":1150,"y":74},{"x":1100,"y":78},{"x":1085,"y":80},{"x":1078,"y":80},{"x":1075,"y":87},{"x":1072,"y":80},{"x":1040,"y":88},{"x":1010,"y":94},{"x":1000,"y":98},{"x":995,"y":100},{"x":990,"y":105},{"x":987,"y":118},{"x":984,"y":106},{"x":980,"y":80},{"x":976,"y":56},{"x":970,"y":47},{"x":960,"y":46},{"x":940,"y":46},{"x":900,"y":47},{"x":850,"y":49},{"x":800,"y":51},{"x":750,"y":54},{"x":700,"y":57},{"x":650,"y":61},{"x":600,"y":65},{"x":575,"y":68},{"x":562,"y":73},{"x":557,"y":79},{"x":552,"y":70},{"x":546,"y":55},{"x":541,"y":32},{"x":537,"y":20},{"x":535.5,"y":150},{"x":534.5,"y":368},{"x":533.5,"y":250},{"x":532.5,"y":22},{"x":530,"y":18},{"x":520,"y":16},{"x":500,"y":16},{"x":450,"y":15},{"x":400,"y":15},{"x":350,"y":14},{"x":300,"y":14},{"x":292.5,"y":14},{"x":291,"y":68},{"x":289.5,"y":15},{"x":285,"y":14},{"x":250,"y":13},{"x":200,"y":13},{"x":162.5,"y":12},{"x":161,"y":68},{"x":159.5,"y":12},{"x":150,"y":11},{"x":120,"y":10},{"x":113.5,"y":10},{"x":112,"y":71},{"x":110.5,"y":8},{"x":100,"y":8},{"x":60,"y":8},{"x":30,"y":8},{"x":20,"y":9},{"x":16,"y":12},{"x":14,"y":8},{"x":0,"y":8}
 ]},
 "encoding": {
  "x": {"field": "x", "type": "quantitative", "scale": {"domain": [1200, 0], "nice": false}, "axis": {"values": [1200, 1000, 800, 600, 400, 200, 0], "format": "d", "title": "Binding Energy (eV)", "labelFont": "Liberation Serif", "labelFontSize": 9, "titleFontSize": 9.5, "titlePadding": 2}},
  "y": {"field": "y", "type": "quantitative", "scale": {"domain": [0, 423], "nice": false}, "axis": {"labels": false, "ticks": false, "title": "Intensity (a.u)", "titleFontSize": 9, "titlePadding": 5}}
 },
 "layer": [
  {"mark": {"type": "line", "strokeWidth": 0.9, "color": "black"}},
  {"data": {"values": [{"x":498,"y":363,"t":"O1s"},{"x":325,"y":63,"t":"C1s"},{"x":71,"y":73,"t":"Si2p"}]},
   "mark": {"type": "text", "font": "Liberation Sans", "fontWeight": "bold", "fontSize": 8, "color": "#222222"},
   "encoding": {"text": {"field": "t"}}}
 ]
},
{
 "width": 186, "height": 141,
 "title": {"text": "(f)", "offset": -13, "dy": -5},
 "data": {"values": [
 {"k":"env","x":292,"y":53},{"k":"env","x":291,"y":53.5},{"k":"env","x":290,"y":54},{"k":"env","x":289.5,"y":56},{"k":"env","x":289,"y":58},{"k":"env","x":288.5,"y":62},{"k":"env","x":288,"y":68},{"k":"env","x":287.5,"y":77},{"k":"env","x":287,"y":90},{"k":"env","x":286.7,"y":100},{"k":"env","x":286.4,"y":113},{"k":"env","x":286.1,"y":135},{"k":"env","x":285.8,"y":165},{"k":"env","x":285.5,"y":205},{"k":"env","x":285.3,"y":240},{"k":"env","x":285.1,"y":275},{"k":"env","x":284.95,"y":305},{"k":"env","x":284.85,"y":325},{"k":"env","x":284.75,"y":336},{"k":"env","x":284.6,"y":330},{"k":"env","x":284.45,"y":310},{"k":"env","x":284.3,"y":278},{"k":"env","x":284.15,"y":240},{"k":"env","x":284,"y":200},{"k":"env","x":283.85,"y":160},{"k":"env","x":283.7,"y":122},{"k":"env","x":283.5,"y":85},{"k":"env","x":283.3,"y":60},{"k":"env","x":283,"y":45},{"k":"env","x":282.5,"y":38},{"k":"env","x":282,"y":35},
 {"k":"cc","x":292,"y":53},{"k":"cc","x":288,"y":53},{"k":"cc","x":287,"y":53},{"k":"cc","x":286.5,"y":55},{"k":"cc","x":286,"y":62},{"k":"cc","x":285.7,"y":75},{"k":"cc","x":285.5,"y":92},{"k":"cc","x":285.3,"y":125},{"k":"cc","x":285.1,"y":175},{"k":"cc","x":284.95,"y":225},{"k":"cc","x":284.8,"y":268},{"k":"cc","x":284.65,"y":293},{"k":"cc","x":284.5,"y":285},{"k":"cc","x":284.35,"y":258},{"k":"cc","x":284.2,"y":220},{"k":"cc","x":284.05,"y":175},{"k":"cc","x":283.9,"y":135},{"k":"cc","x":283.7,"y":95},{"k":"cc","x":283.5,"y":68},{"k":"cc","x":283.3,"y":52},{"k":"cc","x":283,"y":43},{"k":"cc","x":282.5,"y":38},{"k":"cc","x":282,"y":35},
 {"k":"co","x":292,"y":53},{"k":"co","x":289,"y":53},{"k":"co","x":288,"y":53},{"k":"co","x":287.5,"y":54},{"k":"co","x":287,"y":58},{"k":"co","x":286.7,"y":65},{"k":"co","x":286.4,"y":80},{"k":"co","x":286.1,"y":103},{"k":"co","x":285.8,"y":133},{"k":"co","x":285.6,"y":152},{"k":"co","x":285.45,"y":160},{"k":"co","x":285.3,"y":155},{"k":"co","x":285.1,"y":140},{"k":"co","x":284.9,"y":118},{"k":"co","x":284.7,"y":95},{"k":"co","x":284.5,"y":72},{"k":"co","x":284.3,"y":57},{"k":"co","x":284,"y":47},{"k":"co","x":283.7,"y":42},{"k":"co","x":283.4,"y":39},{"k":"co","x":283,"y":36},
 {"k":"ceo","x":289.5,"y":54},{"k":"ceo","x":289,"y":57},{"k":"ceo","x":288.5,"y":62},{"k":"ceo","x":288,"y":68},{"k":"ceo","x":287.5,"y":77},{"k":"ceo","x":287,"y":86},{"k":"ceo","x":286.7,"y":92},{"k":"ceo","x":286.4,"y":96},{"k":"ceo","x":286.1,"y":95},{"k":"ceo","x":285.8,"y":90},{"k":"ceo","x":285.5,"y":82},{"k":"ceo","x":285,"y":67},{"k":"ceo","x":284.5,"y":55},{"k":"ceo","x":284,"y":47},{"k":"ceo","x":283.5,"y":41},{"k":"ceo","x":283,"y":38},{"k":"ceo","x":282.5,"y":36},{"k":"ceo","x":282,"y":35},
 {"k":"bg","x":292,"y":52},{"k":"bg","x":289,"y":52},{"k":"bg","x":288,"y":52},{"k":"bg","x":287,"y":51},{"k":"bg","x":286,"y":48},{"k":"bg","x":285.5,"y":46},{"k":"bg","x":285,"y":43},{"k":"bg","x":284.5,"y":40},{"k":"bg","x":284,"y":38},{"k":"bg","x":283,"y":36},{"k":"bg","x":282,"y":35}
 ]},
 "encoding": {
  "x": {"field": "x", "type": "quantitative", "scale": {"domain": [292, 282], "nice": false}, "axis": {"values": [292, 290, 288, 286, 284, 282], "title": "Binding Energy (eV)", "labelFont": "Liberation Serif", "labelFontSize": 9, "titleFontSize": 9.5, "titlePadding": 2}},
  "y": {"field": "y", "type": "quantitative", "scale": {"domain": [0, 423], "nice": false}, "axis": {"labels": false, "ticks": false, "title": "Intensity (a.u)", "titleFontSize": 9, "titlePadding": 6}}
 },
 "layer": [
  {"mark": {"type": "line"},
   "encoding": {
    "color": {"field": "k", "type": "nominal", "scale": {"domain": ["env", "cc", "co", "ceo", "bg"], "range": ["#000000", "#ff0000", "#0000ff", "#111111", "#333333"]}, "legend": null},
    "strokeWidth": {"field": "k", "type": "nominal", "scale": {"domain": ["env", "cc", "co", "ceo", "bg"], "range": [1.3, 1.3, 1.2, 1, 0.8]}, "legend": null}
   }},
  {"data": {"values": [{"x":284.48,"y":356,"t":"C-C/C=C"},{"x":287.35,"y":198,"t":"C-O"},{"x":288.32,"y":118,"t":"C=O"}]},
   "mark": {"type": "text"},
   "encoding": {"text": {"field": "t"}}}
 ]
}
]},
{"spacing": 0, "hconcat": [
{
 "width": 188, "height": 140,
 "title": {"text": "\u00a0\u00a0\u00a0\u00a0\u00a0\u00a0(g)", "offset": -29, "dy": -5},
 "data": {"values": [
 {"k":"fit","x":108.6,"y":40},{"k":"fit","x":108,"y":40},{"k":"fit","x":107,"y":42},{"k":"fit","x":106.5,"y":44},{"k":"fit","x":106,"y":48},{"k":"fit","x":105.7,"y":55},{"k":"fit","x":105.4,"y":70},{"k":"fit","x":105.1,"y":98},{"k":"fit","x":104.9,"y":128},{"k":"fit","x":104.7,"y":165},{"k":"fit","x":104.5,"y":208},{"k":"fit","x":104.3,"y":253},{"k":"fit","x":104.1,"y":292},{"k":"fit","x":103.9,"y":317},{"k":"fit","x":103.7,"y":325},{"k":"fit","x":103.5,"y":318},{"k":"fit","x":103.3,"y":298},{"k":"fit","x":103.1,"y":265},{"k":"fit","x":102.9,"y":222},{"k":"fit","x":102.7,"y":177},{"k":"fit","x":102.5,"y":135},{"k":"fit","x":102.3,"y":100},{"k":"fit","x":102.1,"y":75},{"k":"fit","x":101.9,"y":60},{"k":"fit","x":101.6,"y":49},{"k":"fit","x":101.2,"y":43},{"k":"fit","x":100.5,"y":40},{"k":"fit","x":100,"y":39},{"k":"fit","x":99,"y":38},{"k":"fit","x":98,"y":38},{"k":"fit","x":97,"y":37},{"k":"fit","x":95.5,"y":36},
 {"k":"bg","x":108.6,"y":38},{"k":"bg","x":104,"y":38},{"k":"bg","x":102,"y":37},{"k":"bg","x":95.5,"y":36}
 ]},
 "encoding": {
  "x": {"field": "x", "type": "quantitative", "scale": {"domain": [108.6, 94.7], "nice": false}, "axis": {"values": [108, 106, 104, 102, 100, 98, 96], "title": "Binding Energy (eV)", "labelFont": "Liberation Serif", "labelFontSize": 9, "titleFontSize": 9.5, "titlePadding": 2}},
  "y": {"field": "y", "type": "quantitative", "scale": {"domain": [0, 420], "nice": false}, "axis": {"labels": false, "ticks": false, "title": "Intensity (a.u)", "titleFontSize": 9, "titlePadding": 6}}
 },
 "layer": [
  {"mark": {"type": "line"},
   "encoding": {
    "color": {"field": "k", "type": "nominal", "scale": {"domain": ["bg", "fit"], "range": ["#222222", "#ff0000"]}, "legend": null},
    "strokeWidth": {"field": "k", "type": "nominal", "scale": {"domain": ["bg", "fit"], "range": [0.9, 1.3]}, "legend": null}
   }},
  {"data": {"values": [{"x":102.84,"y":315,"t":"Si-O"}]},
   "mark": {"type": "text", "fontSize": 9},
   "encoding": {"text": {"field": "t"}}}
 ]
},
{
 "width": 189, "height": 139,
 "title": {"text": "(h)", "offset": 3, "dy": -5},
 "data": {"values": [
 {"k":"fit","x":538,"y":17},{"k":"fit","x":537,"y":19},{"k":"fit","x":536,"y":23},{"k":"fit","x":535.5,"y":28},{"k":"fit","x":535.2,"y":35},{"k":"fit","x":534.9,"y":48},{"k":"fit","x":534.6,"y":72},{"k":"fit","x":534.3,"y":110},{"k":"fit","x":534,"y":165},{"k":"fit","x":533.8,"y":215},{"k":"fit","x":533.6,"y":265},{"k":"fit","x":533.4,"y":305},{"k":"fit","x":533.2,"y":324},{"k":"fit","x":533,"y":316},{"k":"fit","x":532.8,"y":290},{"k":"fit","x":532.6,"y":250},{"k":"fit","x":532.4,"y":200},{"k":"fit","x":532.2,"y":150},{"k":"fit","x":532,"y":110},{"k":"fit","x":531.8,"y":78},{"k":"fit","x":531.6,"y":55},{"k":"fit","x":531.3,"y":38},{"k":"fit","x":531,"y":28},{"k":"fit","x":530.5,"y":22},{"k":"fit","x":530,"y":19},{"k":"fit","x":529,"y":18},{"k":"fit","x":528.7,"y":17},
 {"k":"bg","x":538,"y":16},{"k":"bg","x":532,"y":15},{"k":"bg","x":526,"y":13},
 {"k":"b1","x":535.6,"y":2},{"k":"b1","x":535.4,"y":5},{"k":"b1","x":535.2,"y":3},{"k":"b1","x":535,"y":6},{"k":"b1","x":534.8,"y":5},{"k":"b1","x":534.6,"y":12},{"k":"b1","x":534.5,"y":14},{"k":"b1","x":534.4,"y":10},{"k":"b1","x":534.2,"y":6},{"k":"b1","x":534,"y":3},
 {"k":"b2","x":533.1,"y":3},{"k":"b2","x":533,"y":14},{"k":"b2","x":532.9,"y":10},{"k":"b2","x":532.8,"y":6},{"k":"b2","x":532.6,"y":9},{"k":"b2","x":532.4,"y":7},{"k":"b2","x":532.2,"y":4},{"k":"b2","x":532.1,"y":2}
 ]},
 "encoding": {
  "x": {"field": "x", "type": "quantitative", "scale": {"domain": [538, 526], "nice": false}, "axis": {"values": [538, 536, 534, 532, 530, 528, 526], "title": "Binding Energy (eV)", "labelFont": "Liberation Serif", "labelFontSize": 9, "titleFontSize": 9.5, "titlePadding": 2}},
  "y": {"field": "y", "type": "quantitative", "scale": {"domain": [7, 422], "nice": false}, "axis": {"labels": false, "ticks": false, "title": "Intensity (a.u)", "titleFontSize": 9, "titlePadding": 5}}
 },
 "layer": [
  {"mark": {"type": "line", "clip": true},
   "encoding": {
    "color": {"field": "k", "type": "nominal", "scale": {"domain": ["bg", "fit", "b1", "b2"], "range": ["#222222", "#ff0000", "#0000ff", "#0000ff"]}, "legend": null},
    "strokeWidth": {"field": "k", "type": "nominal", "scale": {"domain": ["bg", "fit", "b1", "b2"], "range": [0.9, 1.3, 1, 1]}, "legend": null},
    "strokeDash": {"field": "k", "type": "nominal", "scale": {"domain": ["bg", "fit", "b1", "b2"], "range": [[1, 0], [1, 0], [3, 1.5], [3, 1.5]]}, "legend": null}
   }},
  {"data": {"values": [{"x":532.1,"y":334,"t":"O-Si"}]},
   "mark": {"type": "text", "fontSize": 9},
   "encoding": {"text": {"field": "t"}}}
 ]
},
{
 "width": 174, "height": 141,
 "title": {"text": "(i)", "offset": -28, "dy": -5},
 "data": {"values": [
 {"s":"ACS-1.0","v":520,"lo":460,"hi":577},{"s":"ACS-2.5","v":356,"lo":268,"hi":443},{"s":"ACS-5.0","v":276,"lo":244,"hi":311},{"s":"ACS-10.0","v":171,"lo":140,"hi":201}
 ]},
 "encoding": {
  "x": {"field": "s", "type": "nominal", "sort": null, "scale": {"paddingInner": 0.47, "paddingOuter": 0.235}, "axis": {"title": null, "labelAngle": -45, "labelAlign": "right", "labelBaseline": "middle", "labelFontSize": 8.5, "labelPadding": 2, "ticks": false}}
 },
 "layer": [
  {"mark": {"type": "bar", "fill": "white", "stroke": "black", "strokeWidth": 1.3},
   "encoding": {"y": {"field": "v", "type": "quantitative", "title": "Densities (kg m⁻³)", "scale": {"domain": [0, 600], "nice": false},
    "axis": {"tickCount": 7, "labelOverlap": false, "tickSize": 4, "titleFont": "Liberation Sans", "titleFontSize": 9, "titlePadding": 4, "labelFontSize": 8.5}}}},
  {"mark": {"type": "rule", "color": "#777777", "strokeWidth": 0.8},
   "encoding": {"y": {"field": "lo", "type": "quantitative", "title": "Densities (kg m⁻³)", "axis": {"tickCount": 7, "labelOverlap": false, "tickSize": 4, "titleFont": "Liberation Sans", "titleFontSize": 9, "titlePadding": 4, "labelFontSize": 8.5}}, "y2": {"field": "hi"}}},
  {"mark": {"type": "tick", "color": "#777777", "thickness": 0.8, "size": 6},
   "encoding": {"y": {"field": "lo", "type": "quantitative", "title": "Densities (kg m⁻³)", "axis": {"tickCount": 7, "labelOverlap": false, "tickSize": 4, "titleFont": "Liberation Sans", "titleFontSize": 9, "titlePadding": 4, "labelFontSize": 8.5}}}},
  {"mark": {"type": "tick", "color": "#777777", "thickness": 0.8, "size": 6},
   "encoding": {"y": {"field": "hi", "type": "quantitative", "title": "Densities (kg m⁻³)", "axis": {"tickCount": 7, "labelOverlap": false, "tickSize": 4, "titleFont": "Liberation Sans", "titleFontSize": 9, "titlePadding": 4, "labelFontSize": 8.5}}}}
 ]
}
]}
]
}
